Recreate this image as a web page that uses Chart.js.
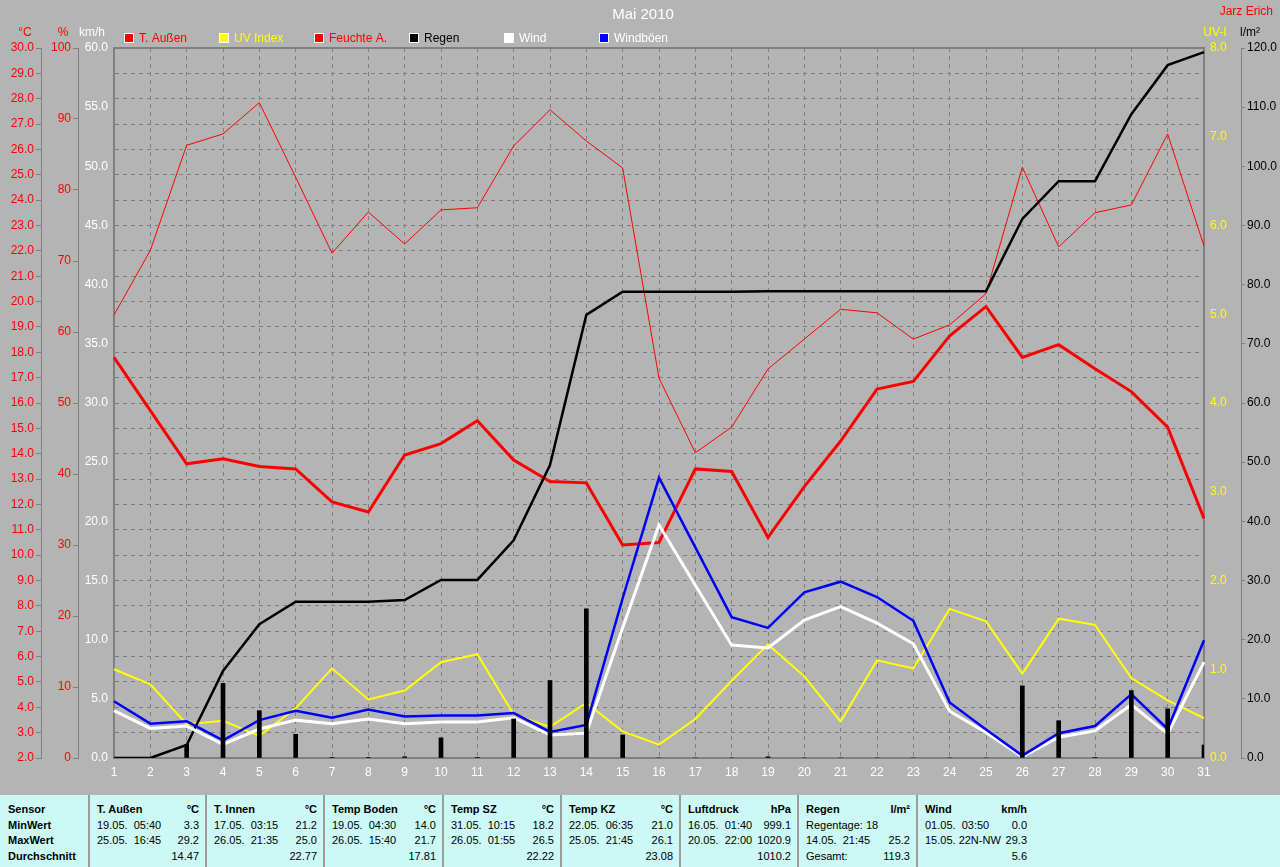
<!DOCTYPE html>
<html><head><meta charset="utf-8">
<script src="https://cdn.jsdelivr.net/npm/chart.js@4"></script>
<style>
html,body{margin:0;padding:0;background:#b4b4b4;width:1280px;height:867px;overflow:hidden;font-family:"Liberation Sans",Arial,sans-serif;}
#wrap{position:absolute;left:0;top:0;width:1280px;height:795px;}
#tbl{position:absolute;left:0;top:795px;width:1280px;height:72px;background:#ccf9f5;color:#000;}
.col{position:absolute;top:0;height:72px;box-sizing:border-box;padding:7px 6px 0 7px;font-size:11px;line-height:15.6px;}
.sep{border-left:2px solid #9c9c9c;}
.row{display:flex;justify-content:space-between;white-space:pre;height:15.6px;}
.b{font-weight:bold;}
</style></head>
<body>
<div id="wrap"><canvas id="c" width="1280" height="795"></canvas></div>
<div id="tbl">
  <div class="col" style="left:0;width:88px;padding-left:8px">
    <div class="row b"><span>Sensor</span></div>
    <div class="row b"><span>MinWert</span></div>
    <div class="row b"><span>MaxWert</span></div>
    <div class="row b"><span>Durchschnitt</span></div>
  </div>
  <div class="col sep" style="left:88px;width:117px">
    <div class="row b"><span>T. Außen</span><span>°C</span></div>
    <div class="row"><span>19.05.  05:40</span><span>3.3</span></div>
    <div class="row"><span>25.05.  16:45</span><span>29.2</span></div>
    <div class="row"><span></span><span>14.47</span></div>
  </div>
  <div class="col sep" style="left:205px;width:118px">
    <div class="row b"><span>T. Innen</span><span>°C</span></div>
    <div class="row"><span>17.05.  03:15</span><span>21.2</span></div>
    <div class="row"><span>26.05.  21:35</span><span>25.0</span></div>
    <div class="row"><span></span><span>22.77</span></div>
  </div>
  <div class="col sep" style="left:323px;width:119px">
    <div class="row b"><span>Temp Boden</span><span>°C</span></div>
    <div class="row"><span>19.05.  04:30</span><span>14.0</span></div>
    <div class="row"><span>26.05.  15:40</span><span>21.7</span></div>
    <div class="row"><span></span><span>17.81</span></div>
  </div>
  <div class="col sep" style="left:442px;width:118px">
    <div class="row b"><span>Temp SZ</span><span>°C</span></div>
    <div class="row"><span>31.05.  10:15</span><span>18.2</span></div>
    <div class="row"><span>26.05.  01:55</span><span>26.5</span></div>
    <div class="row"><span></span><span>22.22</span></div>
  </div>
  <div class="col sep" style="left:560px;width:119px">
    <div class="row b"><span>Temp KZ</span><span>°C</span></div>
    <div class="row"><span>22.05.  06:35</span><span>21.0</span></div>
    <div class="row"><span>25.05.  21:45</span><span>26.1</span></div>
    <div class="row"><span></span><span>23.08</span></div>
  </div>
  <div class="col sep" style="left:679px;width:118px">
    <div class="row b"><span>Luftdruck</span><span>hPa</span></div>
    <div class="row"><span>16.05.  01:40</span><span>999.1</span></div>
    <div class="row"><span>20.05.  22:00</span><span>1020.9</span></div>
    <div class="row"><span></span><span>1010.2</span></div>
  </div>
  <div class="col sep" style="left:797px;width:119px">
    <div class="row b"><span>Regen</span><span>l/m²</span></div>
    <div class="row"><span>Regentage: 18</span><span></span></div>
    <div class="row"><span>14.05.  21:45</span><span>25.2</span></div>
    <div class="row"><span>Gesamt:</span><span>119.3</span></div>
  </div>
  <div class="col sep" style="left:916px;width:116px;padding-right:5px">
    <div class="row b"><span>Wind</span><span>km/h</span></div>
    <div class="row"><span>01.05.  03:50</span><span>0.0</span></div>
    <div class="row"><span>15.05. 22N-NW</span><span> 29.3</span></div>
    <div class="row"><span></span><span>5.6</span></div>
  </div>
</div>
<script>
// ---------- data ----------
const days = ['1','2','3','4','5','6','7','8','9','10','11','12','13','14','15','16','17','18','19','20','21','22','23','24','25','26','27','28','29','30','31'];
const tempOut = [17.8,15.7,13.6,13.8,13.5,13.4,12.1,11.7,13.95,14.4,15.3,13.75,12.9,12.85,10.4,10.5,13.4,13.3,10.7,12.7,14.5,16.55,16.85,18.65,19.8,17.8,18.3,17.35,16.45,15.05,11.45];
const humidity = [62.4,71.5,86.3,87.9,92.3,81.8,71.1,76.9,72.4,77.2,77.5,86.2,91.3,86.9,83.1,53.5,43.0,46.6,54.8,59.0,63.2,62.7,59.0,61.0,65.4,83.2,72.0,76.8,77.9,87.9,72.1];
const rainTotal = [0,0,2.2,14.7,22.6,26.4,26.4,26.4,26.7,30.1,30.1,36.8,49.5,74.9,78.8,78.8,78.8,78.8,78.9,78.9,78.9,78.9,78.9,78.9,78.9,91.1,97.5,97.5,108.8,117.1,119.3];
const rainDaily = [0,0,2.3,12.6,8.0,4.0,0.1,0.1,0.2,3.4,0.1,6.6,13.1,25.2,3.9,0,0,0,0.2,0,0,0,0,0,0,12.2,6.3,0.1,11.4,8.3,2.2];
const uvIndex = [1.0,0.83,0.38,0.42,0.25,0.56,1.01,0.66,0.76,1.08,1.17,0.49,0.35,0.62,0.30,0.15,0.44,0.87,1.28,0.92,0.41,1.10,1.01,1.68,1.54,0.95,1.57,1.50,0.90,0.65,0.45];
const wind = [4.0,2.5,2.7,1.15,2.45,3.2,2.9,3.3,2.9,3.05,3.05,3.4,1.95,2.1,11.0,19.7,14.6,9.55,9.3,11.65,12.8,11.4,9.65,3.95,2.15,0.1,1.75,2.3,4.5,2.05,8.1];
const gusts = [4.8,2.9,3.1,1.5,3.2,4.0,3.4,4.1,3.5,3.6,3.6,3.8,2.2,2.8,13.5,23.7,17.8,11.9,11.0,14.0,14.9,13.6,11.6,4.7,2.4,0.2,2.1,2.7,5.4,2.45,9.95];
const seriesNames = ['T. Außen','UV Index','Feuchte A.','Regen','Wind','Windböen'];
const tempRange = [2, 30, 1];
const humRange = [0, 100, 10];
const windRange = [0, 60, 5];
const uvRange = [0, 8, 1];
const rainRange = [0, 120, 10];
const axisTitles = {yT:'°C', yH:'%', yW:'km/h', yU:'UV-I', yR:'l/m²'};
const chartTitle = 'Mai 2010';
const author = 'Jarz Erich';

// ---------- chart ----------
const FONT = '"Liberation Sans", Arial, sans-serif';
Chart.defaults.font.family = FONT;
Chart.defaults.font.size = 12;
const GRID = '#808080';

const titleOffsets = {yT: s => s.right - 16, yH: s => s.right - 15, yW: s => s.left + 14, yU: s => s.left + 11, yR: s => s.left + 9};
const axisTitleColors = {yT:'#ff0000', yH:'#ff0000', yW:'#ffffff', yU:'#ffff00', yR:'#000000'};

const decor = {
  id: 'decor',
  beforeDatasetsDraw(chart) {
    const {ctx, chartArea: a} = chart;
    ctx.save();
    ctx.strokeStyle = GRID; ctx.lineWidth = 2;
    ctx.strokeRect(a.left, a.top, a.right - a.left, a.bottom - a.top);
    ctx.restore();
  },
  afterDraw(chart) {
    const ctx = chart.ctx;
    ctx.save();
    ctx.textBaseline = 'middle';
    ctx.font = '15px ' + FONT; ctx.fillStyle = '#ffffff'; ctx.textAlign = 'center';
    ctx.fillText(chartTitle, 643, 15);
    ctx.font = '12px ' + FONT; ctx.fillStyle = '#ff0000'; ctx.textAlign = 'right';
    ctx.fillText(author, 1273, 12);
    ctx.textAlign = 'center';
    Object.keys(axisTitles).forEach(id => {
      const s = chart.scales[id];
      ctx.fillStyle = axisTitleColors[id];
      ctx.fillText(axisTitles[id], titleOffsets[id](s), 33);
    });
    ctx.textAlign = 'left';
    chart.data.datasets.forEach(ds => {
      if (ds.legendSlot == null) return;
      const x = 124 + ds.legendSlot * 95, y = 33;
      ctx.fillStyle = '#ffffff'; ctx.fillRect(x, y, 10, 10);
      ctx.fillStyle = ds.borderColor; ctx.fillRect(x + 1, y + 1, 8, 8);
      ctx.fillStyle = ds.legendText;
      ctx.fillText(ds.label, x + 15, y + 5.5);
    });
    ctx.restore();
  }
};

function yAxis(pos, weight, width, range, color, opts) {
  return Object.assign({
    type: 'linear', position: pos, weight: weight,
    min: range[0], max: range[1],
    afterFit: s => { s.width = width; },
    ticks: { stepSize: range[2], color: color, autoSkip: false, padding: 2,
             font: { size: 12 }, callback: v => v.toFixed(1) },
    grid: { display: true, drawOnChartArea: false, drawTicks: true, tickLength: 5, color: GRID },
    border: { display: true, color: GRID, width: 1 }
  }, opts || {});
}

const scales = {
  x: {
    type: 'category', offset: false,
    afterFit: s => { s.height = 37; },
    grid: { display: true, offset: false, drawOnChartArea: true, drawTicks: false, color: GRID },
    border: { display: false, dash: [4, 4] },
    ticks: { color: '#ffffff', padding: 7, autoSkip: false, maxRotation: 0, font: { size: 12 } }
  },
  yT: yAxis('left', 3, 41, tempRange, '#ff0000', {
    grid: { display: true, drawOnChartArea: true, drawTicks: true, tickLength: 5, color: GRID, tickBorderDash: [] },
    border: { display: true, color: GRID, width: 1, dash: [4, 4] }
  }),
  yH: yAxis('left', 2, 37, humRange, '#ff0000'),
  yW: yAxis('left', 1, 36, windRange, '#ffffff', {
    grid: { display: false, drawTicks: false, tickLength: 0 },
    border: { display: false }
  }),
  yU: yAxis('right', 1, 37, uvRange, '#ffff00', {
    grid: { display: false, drawTicks: false, tickLength: 0 },
    border: { display: false }
  }),
  yR: yAxis('right', 2, 39, rainRange, '#000000', {
    grid: { display: true, drawOnChartArea: false, drawTicks: true, tickLength: 4, color: GRID }
  })
};
scales.yH.ticks.callback = v => String(v);
scales.yW.ticks.padding = 6;
scales.yU.ticks.padding = 6;

const lineDs = (label, data, axis, color, width, order, slot, textColor) => ({
  type: 'line', label, data, yAxisID: axis, borderColor: color, backgroundColor: color,
  borderWidth: width, pointRadius: 0, tension: 0, fill: false, order,
  legendSlot: slot, legendText: textColor
});

new Chart(document.getElementById('c'), {
  type: 'line',
  data: {
    labels: days,
    datasets: [
      { type: 'bar', label: 'Regen/Tag', data: rainDaily, yAxisID: 'yR', backgroundColor: '#000000',
        barThickness: 4, order: 0 },
      lineDs(seriesNames[5], gusts, 'yW', '#0000ff', 2.5, 1, 5, '#ffffff'),
      lineDs(seriesNames[4], wind, 'yW', '#ffffff', 3, 2, 4, '#ffffff'),
      lineDs(seriesNames[3], rainTotal, 'yR', '#000000', 2.5, 3, 3, '#000000'),
      lineDs(seriesNames[2], humidity, 'yH', '#ff0000', 1, 4, 2, '#ff0000'),
      lineDs(seriesNames[1], uvIndex, 'yU', '#ffff00', 2, 5, 1, '#ffff00'),
      lineDs(seriesNames[0], tempOut, 'yT', '#ff0000', 3, 6, 0, '#ff0000')
    ]
  },
  options: {
    responsive: false, animation: false, devicePixelRatio: 1,
    layout: { padding: { top: 48, left: 0, right: 0, bottom: 0 } },
    plugins: { legend: { display: false }, tooltip: { enabled: false }, title: { display: false } },
    scales
  },
  plugins: [decor]
});
</script>
</body></html>
